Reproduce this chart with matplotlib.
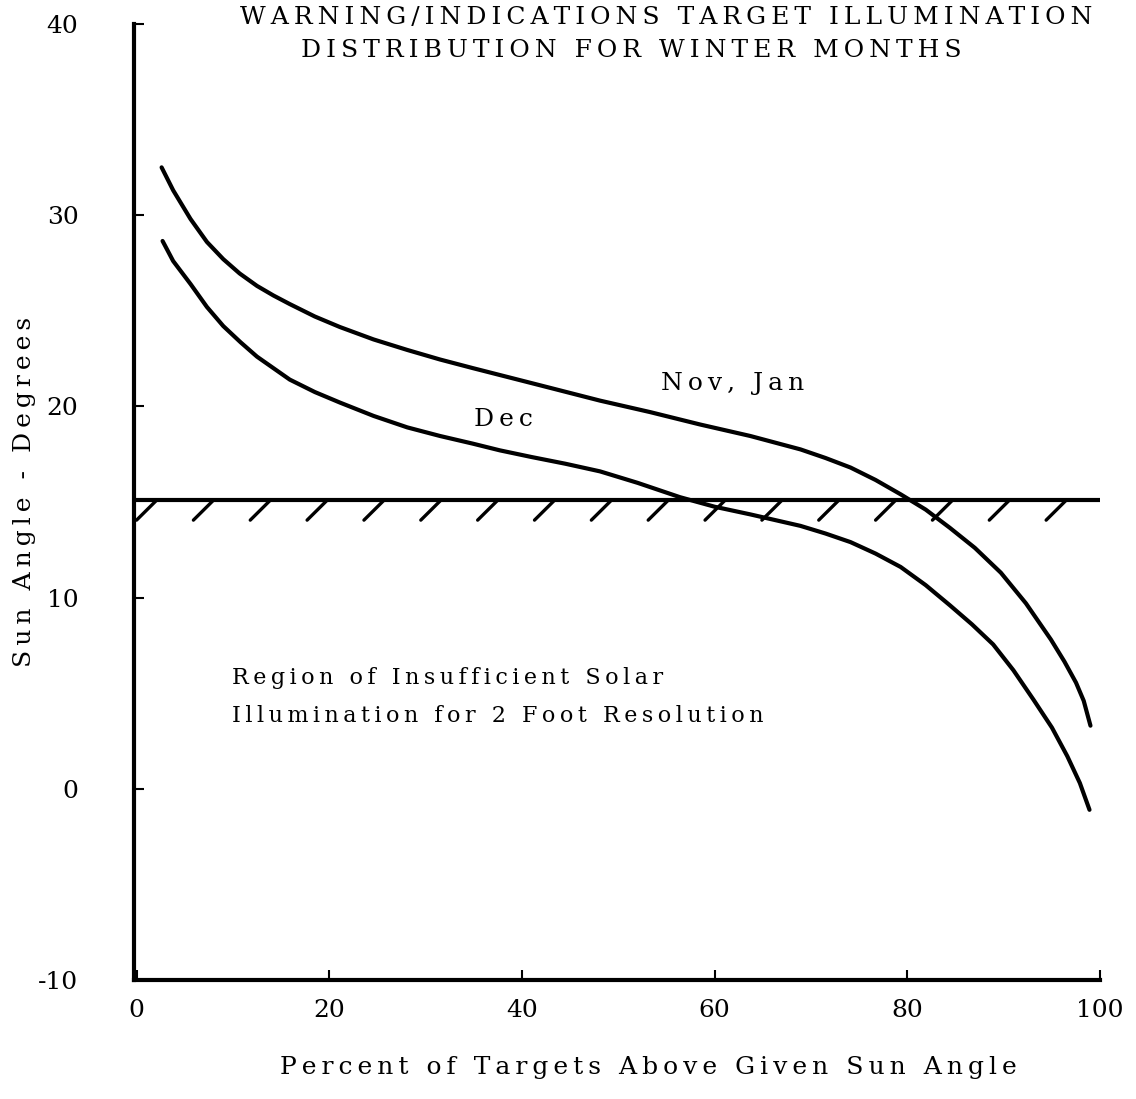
import numpy as np
import matplotlib
matplotlib.use("Agg")
import matplotlib.pyplot as plt

# Percent of targets above a given sun angle (x) vs. sun angle in degrees (y)
nov_jan_pct = [2.6, 3.8, 5.6, 7.3, 9.0, 10.7, 12.5, 14.2, 15.9, 18.5, 21.1, 24.6,
               28.1, 31.5, 34.9, 38.4, 41.9, 45.0, 48.1, 53.3, 58.5, 63.7, 68.9,
               71.5, 74.1, 76.7, 79.3, 81.9, 84.4, 87.0, 89.7, 92.3, 94.9, 96.3,
               97.5, 98.3, 99.0]
nov_jan_angle = [32.5, 31.3, 29.8, 28.6, 27.7, 26.95, 26.3, 25.8, 25.35, 24.7, 24.15,
                 23.5, 22.95, 22.45, 22.0, 21.55, 21.1, 20.7, 20.3, 19.7, 19.05,
                 18.45, 17.75, 17.3, 16.8, 16.15, 15.4, 14.6, 13.65, 12.6, 11.3,
                 9.7, 7.8, 6.65, 5.55, 4.6, 3.3]

dec_pct = [2.7, 3.8, 5.6, 7.3, 9.0, 10.8, 12.5, 14.2, 15.9, 18.5, 21.1, 24.6, 28.1,
           31.5, 34.9, 37.7, 41.0, 44.5, 48.1, 52.0, 56.4, 60.0, 63.7, 68.9, 71.5,
           74.1, 76.7, 79.3, 81.9, 84.4, 86.7, 88.9, 91.0, 93.1, 95.0, 96.6, 97.9,
           98.9]
dec_angle = [28.65, 27.6, 26.4, 25.2, 24.2, 23.35, 22.6, 22.0, 21.4, 20.75, 20.2,
             19.5, 18.9, 18.45, 18.05, 17.7, 17.35, 17.0, 16.6, 16.0, 15.25, 14.75,
             14.35, 13.75, 13.35, 12.9, 12.3, 11.6, 10.65, 9.6, 8.6, 7.55, 6.2,
             4.65, 3.2, 1.7, 0.3, -1.1]

# minimum sun angle for 2 foot resolution
min_angle = 15.1

x_ticks = [0, 20, 40, 60, 80, 100]
y_ticks = [-10, 0, 10, 20, 30, 40]

plt.rcParams["font.family"] = ["DejaVu Serif", "DejaVu Sans"]


def spaced(s):
    # wide letter spacing, typewriter style
    return "\u2009".join(s)


fig = plt.figure(figsize=(11.36, 10.99), dpi=100)
ax = fig.add_axes([0.118, 0.1083, 0.8504, 0.8699])

ax.plot(nov_jan_pct, nov_jan_angle, color="black", lw=3.0, solid_capstyle="round")
ax.plot(dec_pct, dec_angle, color="black", lw=3.0, solid_capstyle="round")

# threshold line with hatching on the insufficient side
ax.plot([-0.3, 100], [min_angle, min_angle], color="black", lw=3.0)
for hx in np.arange(2.1, 99, 5.9):
    ax.plot([hx, hx - 2.1], [min_angle, min_angle - 1.05], color="black", lw=2.4,
            solid_capstyle="round")

ax.set_xlim(-0.26, 100)
ax.set_ylim(-10, 40)
ax.set_xticks(x_ticks)
ax.set_yticks(y_ticks)
ax.set_xticklabels([str(v) for v in x_ticks])
ax.set_yticklabels([str(v) for v in y_ticks])

for side in ["top", "right"]:
    ax.spines[side].set_visible(False)
for side in ["left", "bottom"]:
    ax.spines[side].set_linewidth(3.0)

ax.tick_params(axis="x", direction="in", length=7, width=1.5, pad=14, labelsize=18)
ax.tick_params(axis="y", direction="in", length=7, width=1.5, pad=40, labelsize=18)

ax.set_xlabel(spaced("Percent of Targets Above Given Sun Angle"), fontsize=18, labelpad=24)
ax.xaxis.label.set_x(0.532)
ax.set_ylabel(spaced("Sun Angle - Degrees"), fontsize=18, labelpad=2)
ax.yaxis.label.set_y(0.51)

fig.text(0.586, 0.984, spaced("WARNING/INDICATIONS TARGET ILLUMINATION"),
         ha="center", va="center", fontsize=18)
fig.text(0.556, 0.954, spaced("DISTRIBUTION FOR WINTER MONTHS"),
         ha="center", va="center", fontsize=18)

ax.text(54.4, 21.2, spaced("Nov, Jan"), ha="left", va="center", fontsize=18)
ax.text(35.0, 19.3, spaced("Dec"), ha="left", va="center", fontsize=18)
ax.text(9.9, 5.8, spaced("Region of Insufficient Solar"), ha="left", va="center",
        fontsize=16)
ax.text(9.9, 3.8, spaced("Illumination for 2 Foot Resolution"), ha="left", va="center",
        fontsize=16)

fig.savefig("out.png", dpi=100)
